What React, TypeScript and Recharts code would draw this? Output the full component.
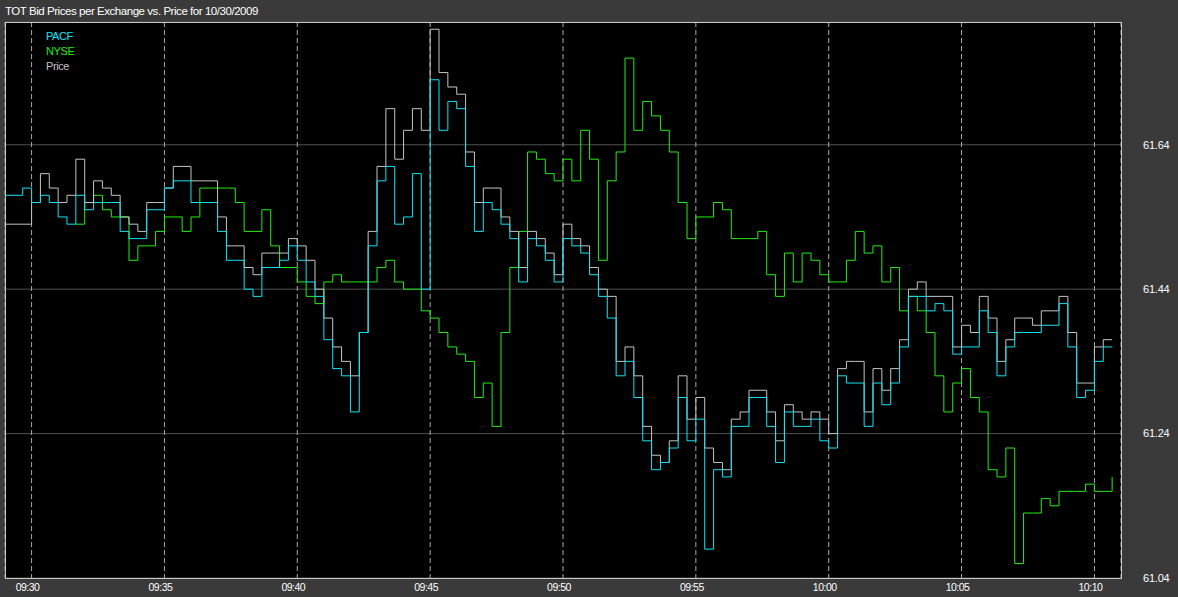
import { LineChart, Line, XAxis, YAxis, CartesianGrid, Legend } from "recharts";

// one sample every 20 s, first sample at 09:29:00
const SAMPLE_SECONDS = 20;

const pacfBid = [
  61.57, 61.57, 61.58, 61.56, 61.57, 61.56, 61.54, 61.53, 61.57, 61.55,
  61.56, 61.56, 61.56, 61.52, 61.51, 61.51, 61.55, 61.55, 61.58, 61.59,
  61.59, 61.56, 61.56, 61.56, 61.52, 61.48, 61.48, 61.44, 61.43, 61.47,
  61.47, 61.48, 61.5, 61.48, 61.45, 61.43, 61.37, 61.33, 61.32, 61.27,
  61.38, 61.5, 61.59, 61.61, 61.53, 61.54, 61.6, 61.44, 61.73, 61.66,
  61.7, 61.69, 61.61, 61.52, 61.56, 61.55, 61.53, 61.51, 61.45, 61.51,
  61.5, 61.48, 61.45, 61.51, 61.5, 61.49, 61.46, 61.43, 61.4, 61.32,
  61.34, 61.29, 61.23, 61.19, 61.2, 61.22, 61.29, 61.23, 61.26, 61.08,
  61.19, 61.18, 61.25, 61.25, 61.29, 61.29, 61.25, 61.2, 61.27, 61.25,
  61.25, 61.26, 61.23, 61.22, 61.32, 61.31, 61.31, 61.25, 61.31, 61.28,
  61.31, 61.36, 61.43, 61.43, 61.41, 61.42, 61.41, 61.35, 61.36, 61.36,
  61.41, 61.38, 61.32, 61.36, 61.38, 61.38, 61.38, 61.39, 61.39, 61.42,
  61.36, 61.29, 61.3, 61.34, 61.36, 61.36,
];

const nyseBid = [
  null, null, null, null, null, null, null, null, 61.53, 61.56,
  61.57, 61.55, 61.54, 61.54, 61.48, 61.5, 61.5, 61.52, 61.54, 61.54,
  61.52, 61.54, 61.58, 61.58, 61.58, 61.58, 61.56, 61.52, 61.52, 61.55,
  61.5, 61.47, 61.47, 61.45, 61.43, 61.42, 61.45, 61.46, 61.45, 61.45,
  61.45, 61.45, 61.47, 61.48, 61.45, 61.44, 61.44, 61.41, 61.4, 61.38,
  61.36, 61.35, 61.34, 61.29, 61.31, 61.25, 61.38, 61.47, 61.52, 61.63,
  61.62, 61.6, 61.59, 61.62, 61.59, 61.66, 61.62, 61.48, 61.59, 61.63,
  61.76, 61.66, 61.7, 61.68, 61.66, 61.63, 61.56, 61.51, 61.54, 61.54,
  61.56, 61.55, 61.51, 61.51, 61.51, 61.52, 61.46, 61.43, 61.49, 61.45,
  61.49, 61.48, 61.46, 61.45, 61.45, 61.48, 61.52, 61.49, 61.5, 61.45,
  61.47, 61.41, 61.43, 61.41, 61.38, 61.32, 61.27, 61.31, 61.33, 61.29,
  61.27, 61.19, 61.18, 61.22, 61.06, 61.13, 61.13, 61.15, 61.14, 61.16,
  61.16, 61.16, 61.17, 61.16, 61.16, 61.18,
];

const tradePrice = [
  61.53, 61.53, 61.53, 61.56, 61.6, 61.58, 61.56, 61.57, 61.62, 61.56,
  61.59, 61.58, 61.57, 61.54, 61.53, 61.52, 61.56, 61.56, 61.58, 61.61,
  61.61, 61.59, 61.59, 61.59, 61.54, 61.5, 61.5, 61.47, 61.46, 61.49,
  61.49, 61.49, 61.51, 61.5, 61.48, 61.44, 61.4, 61.36, 61.34, 61.32,
  61.38, 61.52, 61.61, 61.69, 61.62, 61.66, 61.69, 61.66, 61.8, 61.74,
  61.72, 61.71, 61.63, 61.56, 61.58, 61.58, 61.54, 61.52, 61.47, 61.52,
  61.51, 61.49, 61.46, 61.53, 61.51, 61.5, 61.47, 61.44, 61.43, 61.34,
  61.36, 61.32, 61.25, 61.21, 61.2, 61.23, 61.32, 61.26, 61.29, 61.22,
  61.2, 61.19, 61.26, 61.27, 61.3, 61.3, 61.27, 61.23, 61.28, 61.27,
  61.26, 61.27, 61.26, 61.24, 61.33, 61.34, 61.34, 61.27, 61.33, 61.3,
  61.33, 61.37, 61.44, 61.45, 61.43, 61.43, 61.43, 61.36, 61.39, 61.38,
  61.43, 61.4, 61.34, 61.37, 61.4, 61.4, 61.39, 61.41, 61.41, 61.43,
  61.38, 61.31, 61.31, 61.36, 61.37, 61.37,
];

// seconds after 09:29:00
const timeTicks = [60, 360, 660, 960, 1260, 1560, 1860, 2160, 2460];
const timeTickLabels = ["09:30", "09:35", "09:40", "09:45", "09:50", "09:55", "10:00", "10:05", "10:10"];
const priceTicks = [61.04, 61.24, 61.44, 61.64];
const legendOrder = ["PACF", "NYSE", "Price"];

const data = tradePrice.map((price, i) => ({
  t: i * SAMPLE_SECONDS,
  pacf: pacfBid[i],
  nyse: nyseBid[i],
  price,
}));

const FONT = "'Liberation Sans', Arial, sans-serif";

function LegendList({ payload }: any) {
  const items = [...(payload || [])].sort(
    (a, b) => legendOrder.indexOf(a.value) - legendOrder.indexOf(b.value)
  );
  return (
    <div style={{ fontFamily: FONT, fontSize: 11, lineHeight: "15px", letterSpacing: "-0.4px" }}>
      {items.map((it) => (
        <div key={it.value} style={{ color: it.color }}>
          {it.value}
        </div>
      ))}
    </div>
  );
}

export default function App() {
  return (
    <div style={{ position: "relative", width: 1178, height: 597, background: "#3a3a3a" }}>
      <style>{"body{margin:0}"}</style>
      <div
        style={{
          position: "absolute",
          left: 5,
          top: 4,
          fontFamily: FONT,
          fontSize: 11.5,
          lineHeight: "14px",
          letterSpacing: "-0.45px",
          color: "#fff",
        }}
      >
        TOT Bid Prices per Exchange vs. Price for 10/30/2009
      </div>
      <LineChart width={1178} height={597} data={data} margin={{ top: 22, right: 0, bottom: 0, left: 5 }}>
        <CartesianGrid vertical={false} fill="#000" fillOpacity={1} stroke="#505050" />
        <CartesianGrid horizontal={false} stroke="#a8a8a8" strokeDasharray="5 3" />
        <XAxis
          dataKey="t"
          type="number"
          domain={[0, 2520]}
          ticks={timeTicks}
          tickFormatter={(v) => timeTickLabels[timeTicks.indexOf(v)]}
          height={19}
          tickSize={0}
          tickMargin={6}
          axisLine={false}
          tick={{ fill: "#fff", fontSize: 10.5, fontFamily: FONT, letterSpacing: "-0.5px", dx: -4 }}
        />
        <YAxis
          orientation="right"
          type="number"
          domain={[61.04, 61.81]}
          ticks={priceTicks}
          tickFormatter={(v) => v.toFixed(2)}
          width={57}
          tickSize={0}
          tickMargin={22}
          axisLine={false}
          tick={{ fill: "#fff", fontSize: 11, fontFamily: FONT, letterSpacing: "-0.2px", textAnchor: "start" }}
        />
        <Legend
          layout="vertical"
          align="center"
          verticalAlign="middle"
          wrapperStyle={{ top: 29, left: 46, width: "auto", height: "auto" }}
          content={<LegendList />}
        />
        <Line name="NYSE" dataKey="nyse" type="stepAfter" stroke="#22ee11" strokeWidth={1} dot={false} isAnimationActive={false} />
        <Line name="Price" dataKey="price" type="stepAfter" stroke="#c4c4c4" strokeWidth={1} dot={false} isAnimationActive={false} />
        <Line name="PACF" dataKey="pacf" type="stepAfter" stroke="#11e4f4" strokeWidth={1} dot={false} isAnimationActive={false} />
      </LineChart>
      <div
        style={{
          position: "absolute",
          left: 5,
          top: 22,
          width: 1117,
          height: 557,
          boxSizing: "border-box",
          border: "1px solid #c8c8c8",
          pointerEvents: "none",
        }}
      />
    </div>
  );
}
